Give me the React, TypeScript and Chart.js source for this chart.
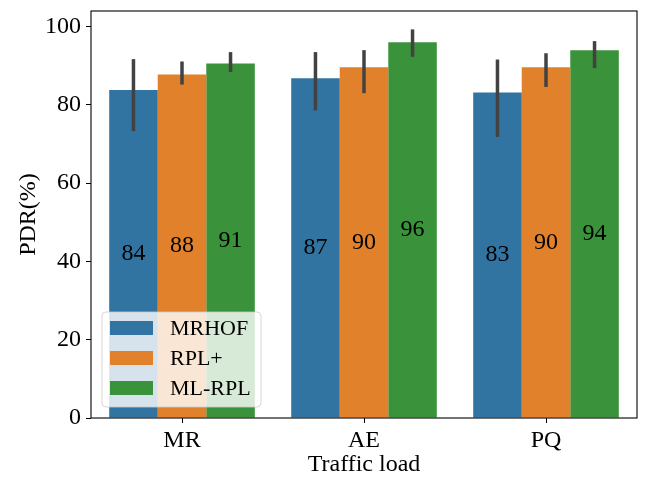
import React, { useEffect, useRef } from "react";
import { Chart, registerables } from "chart.js";

Chart.register(...registerables);

const categories = ["MR", "AE", "PQ"];
const seriesNames = ["MRHOF", "RPL+", "ML-RPL"];
const seriesColors = ["#3274a1", "#e1812c", "#3a923a"];

const mrhofValues = [83.8, 86.8, 83.2];
const rplPlusValues = [87.8, 89.6, 89.6];
const mlRplValues = [90.6, 96.0, 94.0];

const mrhofLow = [73.3, 78.6, 71.8];
const mrhofHigh = [91.7, 93.5, 91.6];
const rplPlusLow = [85.2, 83.0, 84.6];
const rplPlusHigh = [91.1, 94.0, 93.2];
const mlRplLow = [88.4, 92.3, 89.4];
const mlRplHigh = [93.5, 99.3, 96.3];

const yTicks = [0, 20, 40, 60, 80, 100];

const FONT = "'Liberation Serif', 'DejaVu Serif', serif";

const values = [mrhofValues, rplPlusValues, mlRplValues];
const lows = [mrhofLow, rplPlusLow, mlRplLow];
const highs = [mrhofHigh, rplPlusHigh, mlRplHigh];

const overlayPlugin = {
  id: "overlay",
  afterDatasetsDraw(chart: any) {
    const ctx = chart.ctx;
    const y = chart.scales.y;
    const area = chart.chartArea;
    ctx.save();
    // error bars
    chart.data.datasets.forEach((ds: any, di: number) => {
      const meta = chart.getDatasetMeta(di);
      meta.data.forEach((bar: any, i: number) => {
        ctx.beginPath();
        ctx.strokeStyle = "#424242";
        ctx.lineWidth = 3.5;
        ctx.lineCap = "butt";
        ctx.moveTo(bar.x, y.getPixelForValue(lows[di][i]));
        ctx.lineTo(bar.x, y.getPixelForValue(highs[di][i]));
        ctx.stroke();
      });
    });
    // value labels
    ctx.fillStyle = "#000";
    ctx.font = `24px ${FONT}`;
    ctx.textAlign = "center";
    ctx.textBaseline = "middle";
    chart.data.datasets.forEach((ds: any, di: number) => {
      const meta = chart.getDatasetMeta(di);
      meta.data.forEach((bar: any, i: number) => {
        const cy = (bar.y + bar.base) / 2;
        ctx.fillText(String(Math.round(values[di][i])), bar.x, cy);
      });
    });
    // frame
    ctx.strokeStyle = "#000";
    ctx.lineWidth = 1.1;
    ctx.strokeRect(area.left, area.top, area.right - area.left, area.bottom - area.top);
    // legend
    const lx = area.left + 11;
    const ly = 312;
    const lw = 159;
    const lh = 95;
    ctx.beginPath();
    ctx.roundRect(lx, ly, lw, lh, 4);
    ctx.fillStyle = "rgba(255,255,255,0.8)";
    ctx.fill();
    ctx.strokeStyle = "rgba(204,204,204,0.8)";
    ctx.lineWidth = 1;
    ctx.stroke();
    ctx.font = `22px ${FONT}`;
    ctx.textAlign = "left";
    ctx.textBaseline = "middle";
    chart.data.datasets.forEach((ds: any, di: number) => {
      const cy = ly + 16 + di * 30;
      ctx.fillStyle = seriesColors[di];
      ctx.fillRect(lx + 8, cy - 7, 43, 14);
      ctx.fillStyle = "#000";
      ctx.fillText(ds.label, lx + 68, cy + 1);
    });
    ctx.restore();
  },
};

export default function App() {
  const canvasRef = useRef<HTMLCanvasElement>(null);

  useEffect(() => {
    if (!canvasRef.current) return;
    const chart = new Chart(canvasRef.current, {
      type: "bar",
      data: {
        labels: categories,
        datasets: seriesNames.map((name, i) => ({
          label: name,
          data: values[i],
          backgroundColor: seriesColors[i],
          borderWidth: 0,
          categoryPercentage: 0.8,
          barPercentage: 1.0,
        })),
      },
      options: {
        responsive: false,
        animation: false,
        devicePixelRatio: 1,
        layout: { padding: { top: 11, right: 8, left: 0, bottom: 0 } },
        plugins: {
          legend: { display: false },
          tooltip: { enabled: false },
        },
        scales: {
          x: {
            offset: true,
            grid: {
              offset: false,
              drawOnChartArea: false,
              drawTicks: true,
              tickLength: 5,
              color: "#000",
              lineWidth: 1,
            },
            border: { display: false },
            ticks: {
              color: "#000",
              font: { family: FONT, size: 24 },
              padding: 3,
            },
            title: {
              display: true,
              text: "Traffic load",
              color: "#000",
              font: { family: FONT, size: 24 },
              padding: { top: 0, bottom: 0 },
            },
            afterFit: (scale: any) => {
              scale.height = 61;
              scale.paddingLeft = 0;
              scale.paddingRight = 0;
            },
          },
          y: {
            min: 0,
            max: 104,
            grid: {
              drawOnChartArea: false,
              drawTicks: true,
              tickLength: 5,
              color: "#000",
              lineWidth: 1,
            },
            border: { display: false },
            ticks: {
              color: "#000",
              font: { family: FONT, size: 24 },
              padding: 5,
            },
            afterBuildTicks: (scale: any) => {
              scale.ticks = yTicks.map((v) => ({ value: v }));
            },
            title: {
              display: true,
              text: "PDR(%)",
              color: "#000",
              font: { family: FONT, size: 24 },
              padding: { top: 14, bottom: 0 },
            },
            afterFit: (scale: any) => {
              scale.width = 91;
              scale.paddingTop = 0;
              scale.paddingBottom = 0;
            },
          },
        },
      },
      plugins: [overlayPlugin],
    });
    return () => chart.destroy();
  }, []);

  return (
    <div style={{ position: "absolute", left: 0, top: 0, width: 645, height: 479, background: "#fff" }}>
      <canvas ref={canvasRef} width={645} height={479} />
    </div>
  );
}
